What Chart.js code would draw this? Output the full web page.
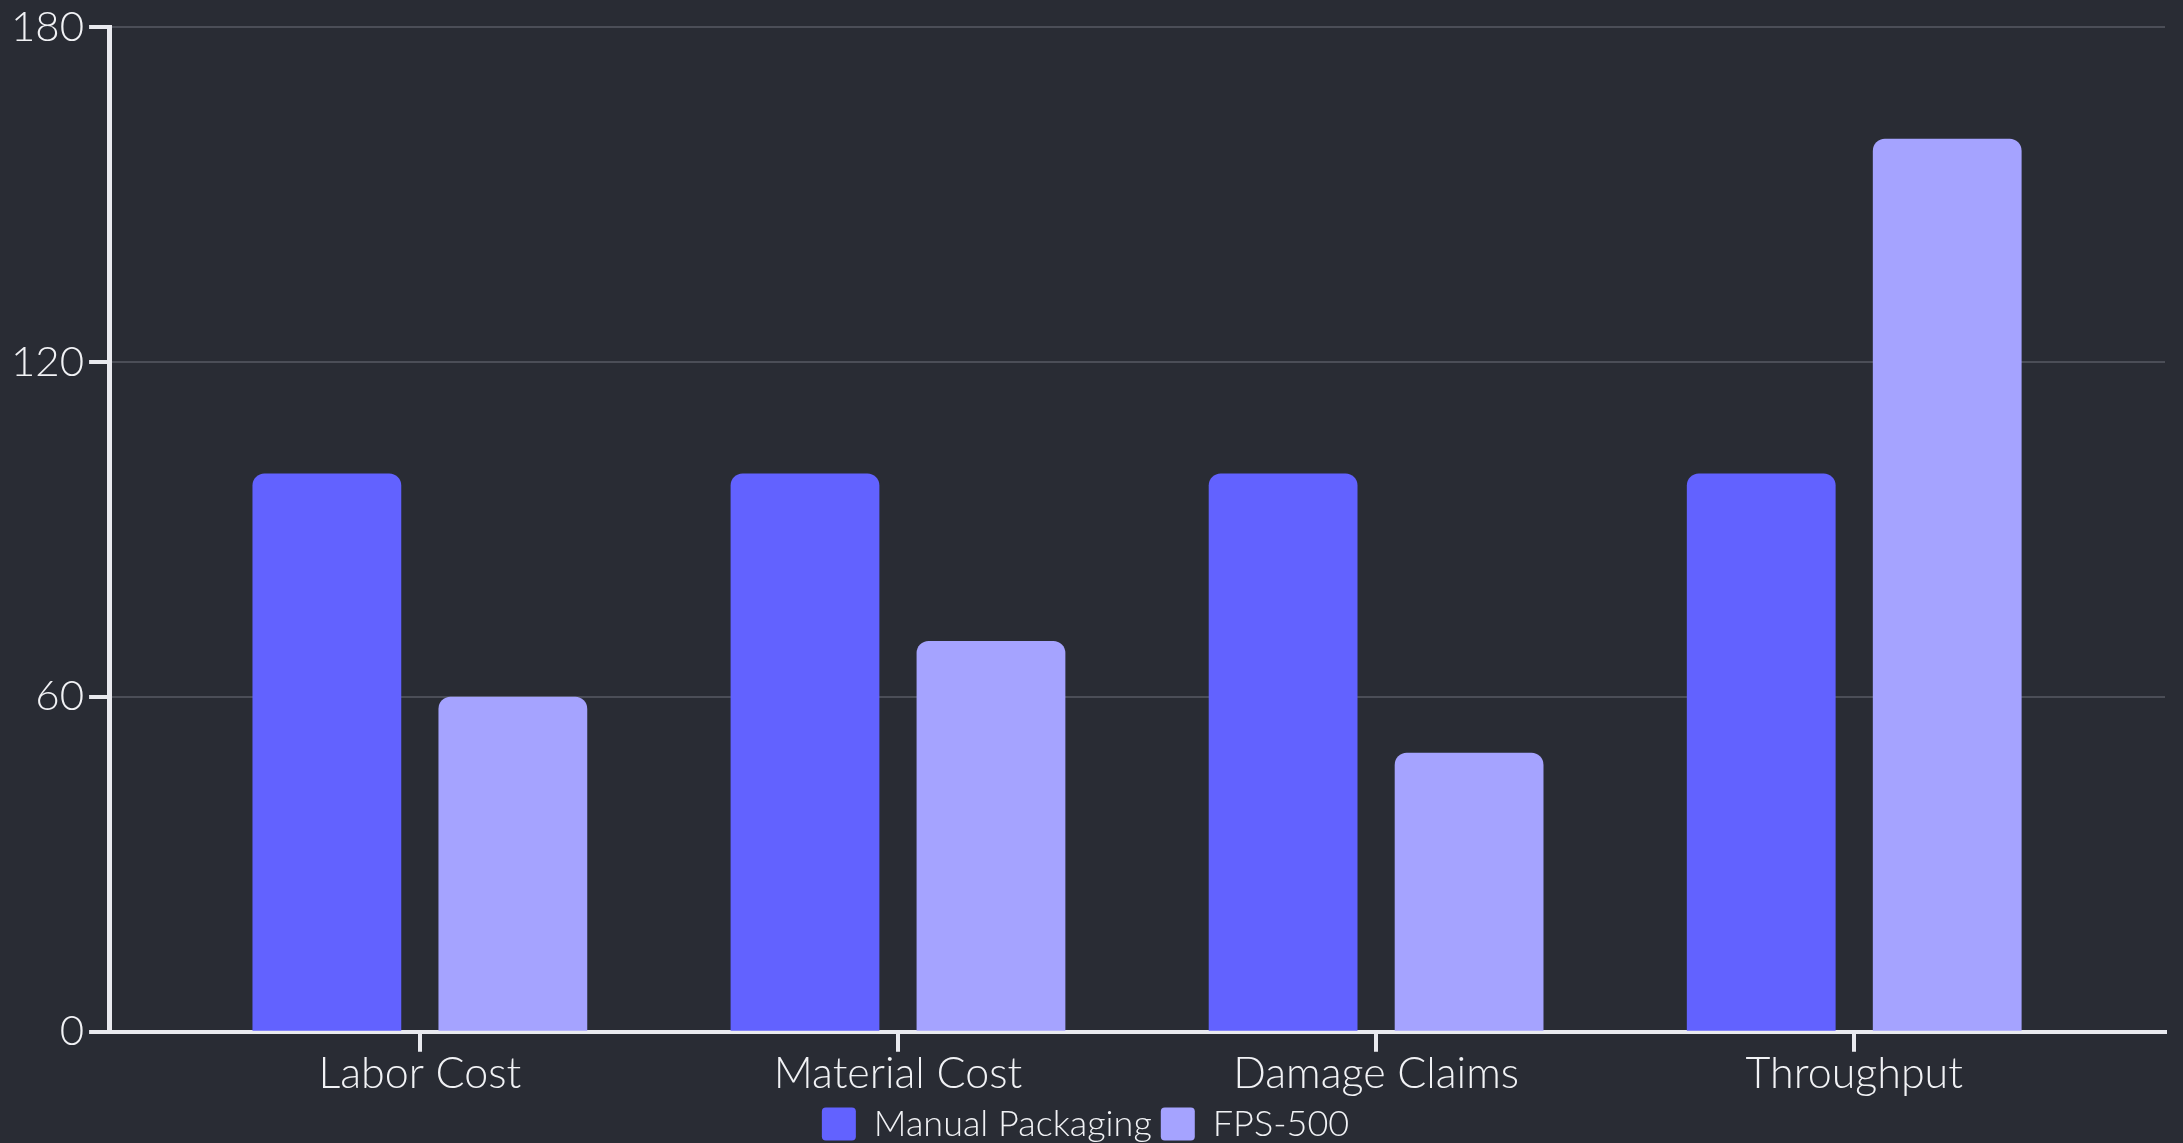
<!DOCTYPE html>
<html lang="en">
<head>
  <meta charset="UTF-8" />
  <title>Manual Packaging vs FPS-500</title>
  <script src="https://cdn.jsdelivr.net/npm/chart.js"></script>
  <style>
    html, body { margin: 0; padding: 0; background: #292c34; }
    #wrap { width: 2183px; height: 1143px; }
  </style>
</head>
<body>
  <div id="wrap"><canvas id="chart"></canvas></div>

  <script>
    const categories = ["Labor Cost", "Material Cost", "Damage Claims", "Throughput"];
    const manualValues = [100, 100, 100, 100];
    const fpsValues = [60, 70, 50, 160];
    const yTicks = [0, 60, 120, 180];

    const fontFamily = "Lato, 'Noto Sans', sans-serif";
    const axisColor = "#e9eaef";
    const gridColor = "#4b4e57";

    // bars sit on a linear x axis so the outer margins can be wider than a category slot
    const toPoints = (vals) => vals.map((v, i) => ({ x: i, y: v }));

    new Chart(document.getElementById("chart"), {
      type: "bar",
      data: {
        datasets: [
          { label: "Manual Packaging", data: toPoints(manualValues), backgroundColor: "#6262ff" },
          { label: "FPS-500", data: toPoints(fpsValues), backgroundColor: "#a5a3ff" },
        ],
      },
      options: {
        responsive: true,
        maintainAspectRatio: false,
        animation: false,
        layout: { padding: { left: 6, right: 18, top: 0, bottom: 0 } },
        datasets: {
          bar: {
            categoryPercentage: 0.778,
            barPercentage: 0.8,
            borderRadius: 12,
            borderSkipped: "start",
          },
        },
        scales: {
          x: {
            type: "linear",
            min: -0.65,
            max: categories.length - 1 + 0.65,
            offset: false,
            grid: { offset: false, drawOnChartArea: false, color: axisColor, tickLength: 20, lineWidth: 4 },
            border: { color: axisColor, width: 4 },
            ticks: {
              stepSize: 1,
              includeBounds: false,
              autoSkip: false,
              maxRotation: 0,
              padding: 8,
              color: "#f1f2f5",
              font: { family: fontFamily, size: 43, weight: 300, lineHeight: 0.68 },
              callback: (v) => categories[v] ?? "",
            },
          },
          y: {
            min: 0,
            max: 180,
            afterBuildTicks: (axis) => { axis.ticks = yTicks.map((v) => ({ value: v })); },
            grid: { color: gridColor, lineWidth: 2, tickColor: axisColor, tickLength: 20, tickWidth: 4 },
            border: { color: axisColor, width: 5 },
            ticks: {
              padding: 5,
              color: "#f1f2f5",
              font: { family: fontFamily, size: 42, weight: 300, lineHeight: 1.05 },
            },
          },
        },
        plugins: {
          legend: {
            position: "bottom",
            maxHeight: 46,
            labels: {
              color: "#f1f2f5",
              boxWidth: 34,
              boxHeight: 33,
              useBorderRadius: true,
              borderRadius: 4,
              padding: 9,
              font: { family: fontFamily, size: 36, weight: 300 },
            },
          },
          tooltip: { enabled: false },
        },
      },
    });
  </script>
</body>
</html>
